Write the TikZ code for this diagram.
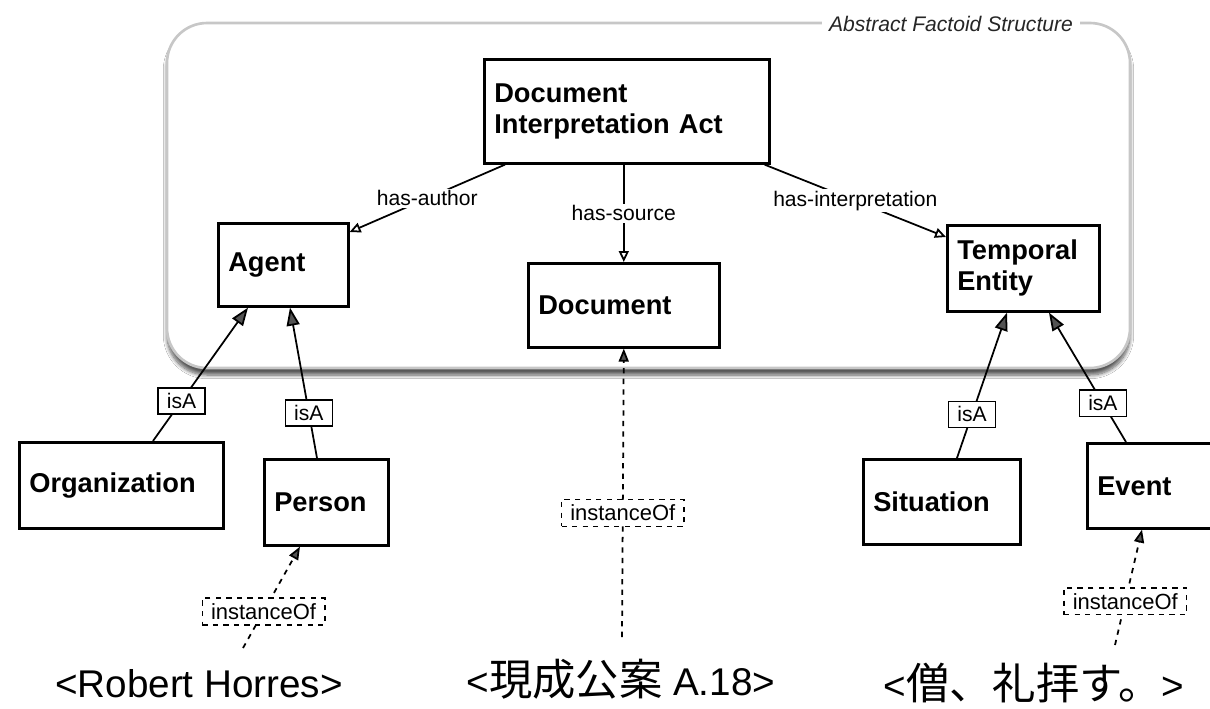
\documentclass[tikz,border=0pt]{standalone}
\usepackage{fontspec}
\setmainfont{Liberation Sans}
\newfontfamily\cjk[Scale=1.12]{Noto Sans CJK JP}
\usepackage{tikz}
\usetikzlibrary{arrows.meta,positioning,calc,shadows.blur}

\begin{document}
\begin{tikzpicture}[
    x=0.02cm, y=-0.02cm,
    entity/.style={rectangle, draw, line width=1.5pt, anchor=north west, align=left, inner xsep=0.2cm, inner ysep=0pt, font=\bfseries\fontsize{15.5}{17.6}\selectfont},
    rel/.style={line width=1pt, -{Triangle[open, length=0.22cm, width=0.2cm]}},
    relname/.style={fill=white, inner sep=1pt, font=\fontsize{12}{14}\selectfont},
    isa/.style={line width=1pt, -{Triangle[length=0.36cm, width=0.26cm]}},
    isatag/.style={draw, fill=white, line width=0.8pt, inner xsep=5pt, inner ysep=3pt, font=\fontsize{12}{14}\selectfont},
    inst/.style={dashed, line width=1pt, -{Triangle[length=0.26cm, width=0.2cm]}},
    insttag/.style={isatag, dashed, font=\fontsize{12.5}{14}\selectfont},
    instance/.style={inner sep=0pt, font=\fontsize{22}{26}\selectfont}
]

\fill[white] (0,0) rectangle (1210,708);
\useasboundingbox (0,0) rectangle (1210,708);
\clip (0,0) rectangle (1210,708);

% abstract structure frame
\draw[draw=black!22, line width=1.5pt, fill=white, rounded corners=0.8cm,
      blur shadow={shadow xshift=0pt, shadow yshift=-0.14cm, shadow blur steps=8, shadow opacity=65}]
    (167,23) rectangle (1130,368);
\node[fill=white, inner xsep=4pt, font=\itshape\fontsize{12}{14}\selectfont, text=black!85] (frame) at (951,24) {Abstract Factoid Structure};

% entities
\node[entity, text width=5.3cm, minimum height=2.08cm] (dia) at (483,58) {Document\\Interpretation Act};
\node[entity, text width=2.2cm, minimum height=1.66cm] (agent) at (217,222) {Agent};
\node[entity, text width=3.42cm, minimum height=1.68cm] (doc) at (527,262) {Document};
\node[entity, text width=2.64cm, minimum height=1.72cm] (temporal) at (946,224) {Temporal\\Entity};
\node[entity, text width=3.68cm, minimum height=1.72cm] (org) at (18,441) {Organization};
\node[entity, text width=2.08cm, minimum height=1.72cm] (person) at (263,458) {Person};
\node[entity, text width=2.74cm, minimum height=1.7cm] (situation) at (862,458) {Situation};
\node[entity, text width=2.48cm, minimum height=1.7cm] (event) at (1086,442) {Event};

% instances
\node[instance] (robert) at (199,684) {<Robert Horres>};
\node[instance] (genjo) at (621,679) {<{\cjk 現成公案} A.18>};
\node[instance] (sorei) at (1034,683) {<{\cjk 僧、礼拝す。}>};
\coordinate (robertfoot) at (243,648);
\coordinate (genjofoot) at (622,637);
\coordinate (soreifoot) at (1115,645);

% relations
\draw[rel] ([xshift=0.44cm]dia.south west) -- node[relname] (hasauthor) {has-author} ([yshift=-0.2cm]agent.north east);
\draw[rel] (doc.north |- dia.south) -- node[relname] (hassource) {has-source} (doc.north);
\draw[rel] ([xshift=-0.12cm]dia.south east) -- node[relname] (hasinterp) {has-interpretation} ([yshift=-0.26cm]temporal.north west);

% isA
\draw[isa] ([xshift=2.7cm]org.north west) -- node[isatag, pos=0.3] (isaorg) {isA} ([xshift=0.62cm]agent.south west);
\draw[isa] ([xshift=1.08cm]person.north west) -- node[isatag, pos=0.3] (isaperson) {isA} ([xshift=1.46cm]agent.south west);
\draw[isa] ([xshift=1.9cm]situation.north west) -- node[isatag, pos=0.3] (isasituation) {isA} ([xshift=1.22cm]temporal.south west);
\draw[isa] ([xshift=0.8cm]event.north west) -- node[isatag, pos=0.3] (isaevent) {isA} ([xshift=2.06cm]temporal.south west);

% instanceOf
\draw[inst] (robertfoot) -- node[insttag, pos=0.36] (instperson) {instanceOf} ([xshift=0.74cm]person.south west);
\draw[inst] (genjofoot) -- node[insttag, pos=0.43] (instdoc) {instanceOf} (doc.south);
\draw[inst] (soreifoot) -- node[insttag, pos=0.38] (instevent) {instanceOf} ([xshift=1.12cm]event.south west);

\end{tikzpicture}
\end{document}
